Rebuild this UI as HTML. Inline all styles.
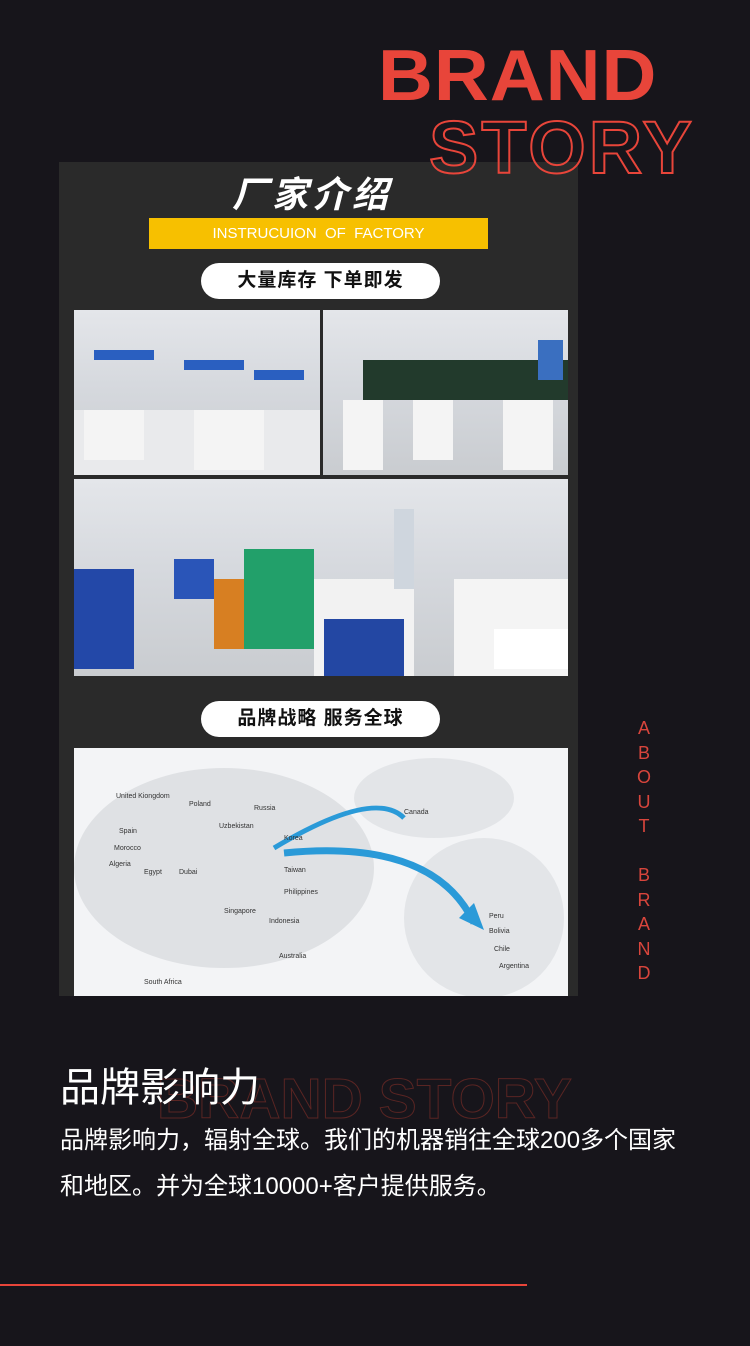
<!DOCTYPE html>
<html><head><meta charset="utf-8"><style>
body{margin:0;width:750px;height:1346px;background:#17151b;position:relative;overflow:hidden;font-family:"Liberation Sans","Noto Sans CJK SC",sans-serif}
.a{position:absolute}
.brand{left:378px;top:38px;font-size:76px;font-weight:bold;color:#e8453a;letter-spacing:1px;line-height:80px;transform:scaleY(0.95);transform-origin:0 0}
.story{left:429px;top:108px;font-size:74px;font-weight:bold;color:transparent;-webkit-text-stroke:2px #e8453a;line-height:80px;letter-spacing:3px}
.panel{left:59px;top:162px;width:519px;height:834px;background:#2a2a2a}
.pill{background:#fff;border-radius:18px;color:#111;font-weight:bold;font-size:19px;text-align:center;line-height:36px;letter-spacing:1px}
.ph{background:linear-gradient(180deg,#e4e6ea 0%,#d6d9de 45%,#c9ccd0 100%)}
</style></head><body>
<div class="a brand">BRAND</div>
<div class="a panel"></div>
<div class="a story">STORY</div>
<div class="a" style="left:232px;top:166px;font-size:36px;font-weight:bold;font-style:italic;color:#fff;letter-spacing:4px">厂家介绍</div>
<div class="a" style="left:149px;top:218px;width:339px;height:31px;background:#f7c000;color:#fff;font-size:15px;line-height:31px;text-align:center">INSTRUCUION &nbsp;OF &nbsp;FACTORY</div>
<div class="a pill" style="left:201px;top:263px;width:239px;height:36px">大量库存 下单即发</div>
<div class="a ph" style="left:74px;top:310px;width:246px;height:165px"><svg width="246" height="165"><rect x="20" y="40" width="60" height="10" fill="#2a5fc0"/><rect x="110" y="50" width="60" height="10" fill="#2a5fc0"/><rect x="180" y="60" width="50" height="10" fill="#2a5fc0"/><rect x="0" y="100" width="246" height="65" fill="#e9eaec"/><rect x="10" y="100" width="60" height="50" fill="#f4f4f4"/><rect x="120" y="100" width="70" height="60" fill="#f4f4f4"/></svg></div>
<div class="a ph" style="left:323px;top:310px;width:245px;height:165px"><svg width="245" height="165"><rect x="40" y="50" width="205" height="40" fill="#223a2c"/><rect x="20" y="90" width="40" height="70" fill="#f4f4f4"/><rect x="90" y="90" width="40" height="60" fill="#f4f4f4"/><rect x="180" y="90" width="50" height="70" fill="#f4f4f4"/><rect x="215" y="30" width="25" height="40" fill="#3a6fc0"/></svg></div>
<div class="a ph" style="left:74px;top:479px;width:494px;height:197px"><svg width="494" height="197"><rect x="0" y="90" width="60" height="100" fill="#2348a8"/><rect x="100" y="80" width="40" height="40" fill="#2a55b8"/><rect x="140" y="100" width="60" height="70" fill="#d77f22"/><rect x="170" y="70" width="70" height="100" fill="#22a06a"/><rect x="240" y="100" width="100" height="97" fill="#f2f2f2"/><rect x="250" y="140" width="80" height="57" fill="#2347a3"/><rect x="320" y="30" width="20" height="80" fill="#cfd6de"/><rect x="380" y="100" width="114" height="97" fill="#f4f4f4"/><rect x="420" y="150" width="74" height="40" fill="#fff"/></svg></div>
<div class="a pill" style="left:201px;top:701px;width:239px;height:36px">品牌战略 服务全球</div>
<div class="a" style="left:74px;top:748px;width:494px;height:248px;background:#f3f4f6"><svg width="494" height="248"><ellipse cx="150" cy="120" rx="150" ry="100" fill="#dfe1e4"/><ellipse cx="410" cy="170" rx="80" ry="80" fill="#e3e5e8"/><ellipse cx="360" cy="50" rx="80" ry="40" fill="#e3e5e8"/><path d="M200 100 Q300 40 330 70" stroke="#2a9ad8" stroke-width="5" fill="none"/><path d="M210 105 Q360 90 400 175" stroke="#2a9ad8" stroke-width="7" fill="none"/><polygon points="385,170 410,182 400,155" fill="#2a9ad8"/><g font-size="7" fill="#333"><text x="42" y="50">United Kiongdom</text><text x="115" y="58">Poland</text><text x="180" y="62">Russia</text><text x="145" y="80">Uzbekistan</text><text x="45" y="85">Spain</text><text x="40" y="102">Morocco</text><text x="35" y="118">Algeria</text><text x="70" y="126">Egypt</text><text x="105" y="126">Dubai</text><text x="210" y="92">Korea</text><text x="210" y="124">Taiwan</text><text x="210" y="146">Philippines</text><text x="150" y="165">Singapore</text><text x="195" y="175">Indonesia</text><text x="205" y="210">Australia</text><text x="330" y="66">Canada</text><text x="415" y="170">Peru</text><text x="415" y="185">Bolivia</text><text x="420" y="203">Chile</text><text x="425" y="220">Argentina</text><text x="70" y="236">South Africa</text></g></svg></div>
<div class="a" style="left:632px;top:716px;width:24px;color:#d8453c;font-size:18px;line-height:24.5px;text-align:center">A<br>B<br>O<br>U<br>T<br><br>B<br>R<br>A<br>N<br>D</div>
<div class="a" style="left:157px;top:1071px;font-size:57px;line-height:1;font-weight:bold;letter-spacing:0;color:transparent;-webkit-text-stroke:1px #5a2523;white-space:nowrap">BRAND STORY</div>
<div class="a" style="left:60px;top:1055px;font-size:40px;color:#fff">品牌影响力</div>
<div class="a" style="left:60px;top:1118px;font-size:24px;color:#fff;line-height:46px;white-space:nowrap">品牌影响力，辐射全球。我们的机器销往全球200多个国家<br>和地区。并为全球10000+客户提供服务。</div>
<div class="a" style="left:0;top:1284px;width:527px;height:2px;background:#e8453a"></div>
</body></html>
